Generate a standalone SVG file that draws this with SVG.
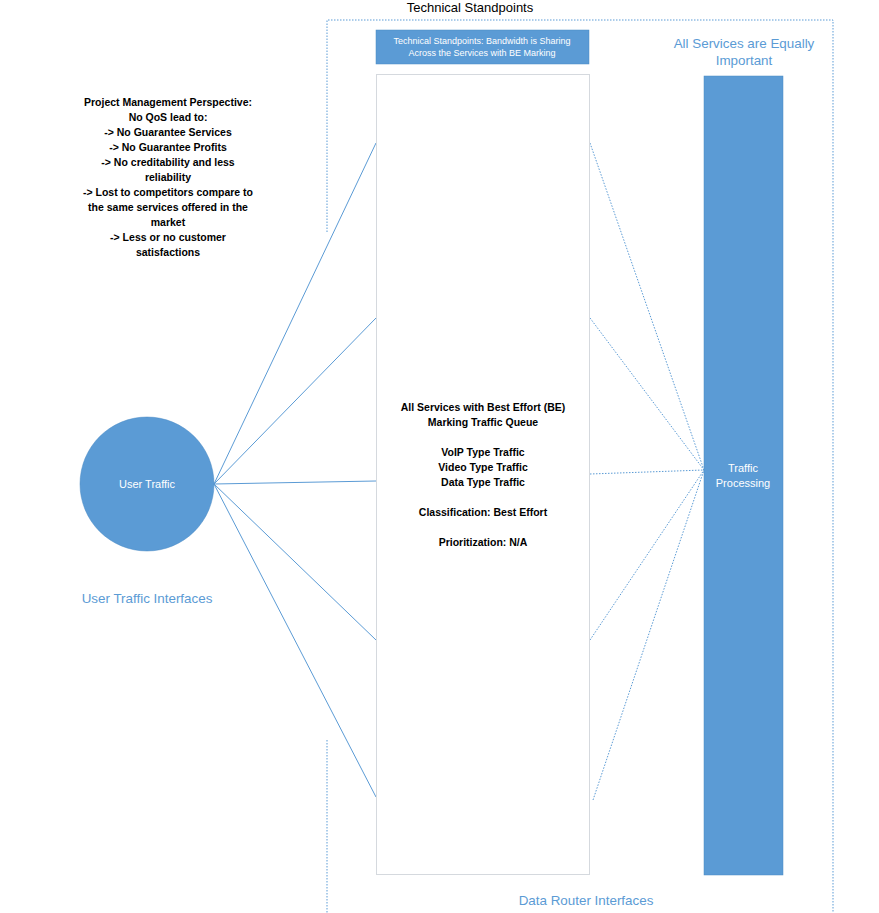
<svg xmlns="http://www.w3.org/2000/svg" width="879" height="913" viewBox="0 0 879 913">
<defs>
<style>
.t{font-family:"Liberation Sans",Arial,sans-serif;}
.b{font-weight:bold;font-size:10.5px;fill:#000;text-anchor:middle;}
.lbl{font-size:13.4px;fill:#5B9BD5;text-anchor:middle;}
.w{fill:#fff;text-anchor:middle;font-size:11px;}
.hw{fill:#fff;text-anchor:middle;font-size:9px;}
.solid{stroke:#5B9BD5;stroke-width:1;fill:none;}
.dot{stroke:#5B9BD5;stroke-width:1;fill:none;stroke-dasharray:1.5 1.5;}
</style>
</defs>
<rect width="879" height="913" fill="#fff"/>
<g id="frame">
<path class="dot" d="M327,232 V20 H833 V913"/>
<path class="dot" d="M327,740 V913"/>
<text class="t" x="470" y="12" font-size="13" text-anchor="middle" fill="#000">Technical Standpoints</text>
</g>
<g id="connectors">
<line class="solid" x1="214" y1="484" x2="376" y2="143"/>
<line class="solid" x1="214" y1="484" x2="376" y2="318"/>
<line class="solid" x1="214" y1="484" x2="376" y2="481"/>
<line class="solid" x1="214" y1="484" x2="376" y2="640"/>
<line class="solid" x1="214" y1="484" x2="376" y2="797"/>
<line class="dot" x1="590" y1="143" x2="704" y2="470"/>
<line class="dot" x1="590" y1="318" x2="704" y2="470"/>
<line class="dot" x1="590" y1="474" x2="704" y2="470"/>
<line class="dot" x1="590" y1="640" x2="704" y2="470"/>
<line class="dot" x1="593" y1="800" x2="704" y2="470"/>
</g>
<g id="header">
<rect x="376" y="30" width="213" height="34" fill="#5B9BD5" stroke="#4a8ac4" stroke-width="0.5"/>
<text class="t hw" x="482" y="44">Technical Standpoints: Bandwidth is Sharing</text>
<text class="t hw" x="482" y="56">Across the Services with BE Marking</text>
</g>
<g id="queue">
<rect x="376.5" y="74.5" width="213" height="800" fill="#fff" stroke="#d5d9de" stroke-width="1"/>
<text class="t b" x="483" y="411">All Services with Best Effort (BE)</text>
<text class="t b" x="483" y="426">Marking Traffic Queue</text>
<text class="t b" x="483" y="456">VoIP Type Traffic</text>
<text class="t b" x="483" y="471">Video Type Traffic</text>
<text class="t b" x="483" y="486">Data Type Traffic</text>
<text class="t b" x="483" y="516">Classification: Best Effort</text>
<text class="t b" x="483" y="546">Prioritization: N/A</text>
</g>
<g id="processing">
<rect x="704" y="76" width="79" height="799" fill="#5B9BD5" stroke="#4a8ac4" stroke-width="0.5"/>
<text class="t w" x="743" y="472">Traffic</text>
<text class="t w" x="743" y="487">Processing</text>
<text class="t lbl" x="744" y="48">All Services are Equally</text>
<text class="t lbl" x="744" y="65">Important</text>
</g>
<g id="user">
<circle cx="147" cy="484" r="67" fill="#5B9BD5" stroke="#4a8ac4" stroke-width="0.5"/>
<text class="t w" x="147" y="488">User Traffic</text>
<text class="t lbl" x="147" y="603">User Traffic Interfaces</text>
</g>
<g id="pm">
<text class="t b" x="168" y="106">Project Management Perspective:</text>
<text class="t b" x="168" y="121">No QoS lead to:</text>
<text class="t b" x="168" y="136">-&gt; No Guarantee Services</text>
<text class="t b" x="168" y="151">-&gt; No Guarantee Profits</text>
<text class="t b" x="168" y="166">-&gt; No creditability and less</text>
<text class="t b" x="168" y="181">reliability</text>
<text class="t b" x="168" y="196">-&gt; Lost to competitors compare to</text>
<text class="t b" x="168" y="211">the same services offered in the</text>
<text class="t b" x="168" y="226">market</text>
<text class="t b" x="168" y="241">-&gt; Less or no customer</text>
<text class="t b" x="168" y="256">satisfactions</text>
</g>
<g id="router">
<text class="t lbl" x="586" y="905">Data Router Interfaces</text>
</g>
</svg>
